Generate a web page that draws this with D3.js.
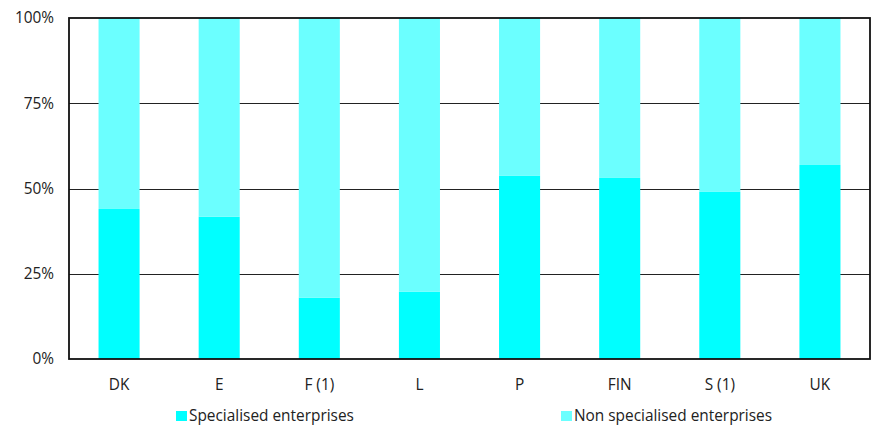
<!DOCTYPE html>
<html>
<head>
<meta charset="utf-8">
<script src="https://cdn.jsdelivr.net/npm/d3@7"></script>
<style>
  html, body { margin: 0; padding: 0; background: #fff; }
  svg { display: block; font-family: "Open Sans", "DejaVu Sans", sans-serif; }
</style>
</head>
<body>
<svg id="chart" width="874" height="425"></svg>
<script>
// Countries on the x axis
const countries = ["DK", "E", "F (1)", "L", "P", "FIN", "S (1)", "UK"];
// Share of specialised enterprises (the remainder is non specialised)
const specialised = [0.44, 0.417, 0.18, 0.197, 0.537, 0.531, 0.49, 0.569];
const nonSpecialised = specialised.map(v => 1 - v);
const seriesNames = ["Specialised enterprises", "Non specialised enterprises"];
const seriesColors = ["#00ffff", "#6bffff"];
const yTicks = [0, 0.25, 0.5, 0.75, 1];

const svg = d3.select("#chart");
const margin = { left: 69, right: 4, top: 18, bottom: 66 };
const W = 874, H = 425;
const fontSize = 15.4;

const x = d3.scaleBand()
  .domain(countries)
  .range([margin.left, W - margin.right])
  .paddingInner(0.59)
  .paddingOuter(0.295);

const y = d3.scaleLinear()
  .domain([0, 1])
  .range([H - margin.bottom, margin.top]);

// Gridlines
svg.append("g")
  .selectAll("line")
  .data(yTicks.filter(t => t > 0 && t < 1))
  .join("line")
  .attr("x1", margin.left).attr("x2", W - margin.right)
  .attr("y1", d => Math.round(y(d)) + 0.5).attr("y2", d => Math.round(y(d)) + 0.5)
  .attr("stroke", "#222").attr("stroke-width", 1.2);

// Stacked bars
const rows = countries.map((c, i) => ({ country: c, spec: specialised[i], non: nonSpecialised[i] }));
const stack = d3.stack().keys(["spec", "non"])(rows);

svg.append("g")
  .selectAll("g")
  .data(stack)
  .join("g")
  .attr("fill", (d, i) => seriesColors[i])
  .selectAll("rect")
  .data(d => d)
  .join("rect")
  .attr("x", d => x(d.data.country))
  .attr("width", x.bandwidth())
  .attr("y", d => y(d[1]))
  .attr("height", d => y(d[0]) - y(d[1]));

// Frame around the plot area
svg.append("rect")
  .attr("x", margin.left).attr("y", margin.top)
  .attr("width", W - margin.right - margin.left)
  .attr("height", H - margin.bottom - margin.top)
  .attr("fill", "none").attr("stroke", "#111").attr("stroke-width", 1.8);

// Y axis labels
const yAxis = d3.axisLeft(y).tickValues(yTicks).tickFormat(d3.format(".0%")).tickSize(0).tickPadding(15);
const gy = svg.append("g").attr("transform", `translate(${margin.left},0)`).call(yAxis);
gy.select(".domain").remove();
gy.selectAll("text").attr("font-size", fontSize).attr("fill", "#222").attr("font-family", "Open Sans, DejaVu Sans, sans-serif");

// X axis labels
const xAxis = d3.axisBottom(x).tickSize(0).tickPadding(20);
const gx = svg.append("g").attr("transform", `translate(0,${H - margin.bottom})`).call(xAxis);
gx.select(".domain").remove();
gx.selectAll("text").attr("font-size", fontSize).attr("fill", "#222").attr("font-family", "Open Sans, DejaVu Sans, sans-serif");

// Legend
const legendX = [176, 561];
const legend = svg.append("g")
  .selectAll("g")
  .data(seriesNames)
  .join("g")
  .attr("transform", (d, i) => `translate(${legendX[i]},411)`);
legend.append("rect").attr("width", 11).attr("height", 10).attr("fill", (d, i) => seriesColors[i]);
legend.append("text")
  .attr("x", 13).attr("y", 10)
  .attr("font-size", fontSize).attr("fill", "#222")
  .text(d => d);
</script>
</body>
</html>
